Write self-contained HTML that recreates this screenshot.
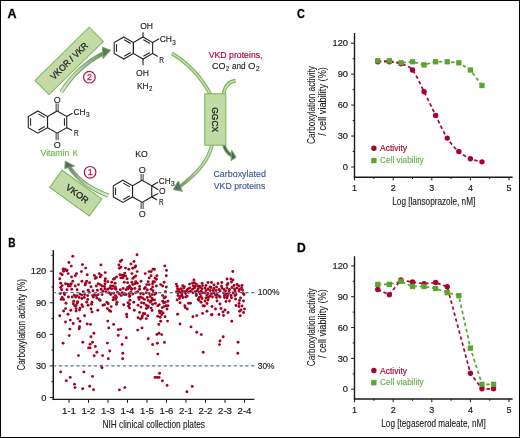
<!DOCTYPE html>
<html><head><meta charset="utf-8"><style>
html,body{margin:0;padding:0;background:#fff;}
svg{display:block;will-change:transform;}
text{font-family:"Liberation Sans",sans-serif;}
</style></head><body>
<svg width="520" height="438" viewBox="0 0 520 438">
<rect x="0" y="0" width="520" height="438" fill="#fff"/>
<polygon points="123.80,36.90 133.41,42.45 133.41,53.55 123.80,59.10 114.19,53.55 114.19,42.45" fill="none" stroke="#222222" stroke-width="1.1" stroke-linejoin="miter"/><line x1="116.49" y1="51.77" x2="116.49" y2="44.23" stroke="#222222" stroke-width="1.05"/><line x1="124.19" y1="39.78" x2="130.72" y2="43.55" stroke="#222222" stroke-width="1.05"/><line x1="130.72" y1="52.45" x2="124.19" y2="56.22" stroke="#222222" stroke-width="1.05"/><polygon points="143.03,36.90 152.64,42.45 152.64,53.55 143.03,59.10 133.41,53.55 133.41,42.45" fill="none" stroke="#222222" stroke-width="1.1" stroke-linejoin="miter"/><line x1="143.41" y1="39.78" x2="149.95" y2="43.55" stroke="#222222" stroke-width="1.05"/><line x1="149.95" y1="52.45" x2="143.41" y2="56.22" stroke="#222222" stroke-width="1.05"/><line x1="143.03" y1="36.90" x2="143.03" y2="32.20" stroke="#222222" stroke-width="1.1"/><line x1="143.03" y1="59.10" x2="143.03" y2="65.20" stroke="#222222" stroke-width="1.1"/><line x1="152.64" y1="42.45" x2="159.20" y2="38.80" stroke="#222222" stroke-width="1.1"/><line x1="152.64" y1="53.55" x2="157.80" y2="56.50" stroke="#222222" stroke-width="1.1"/><text x="140.20" y="28.70" font-size="9.0" fill="#222222" stroke="#222222" stroke-width="0.14" textLength="12.80" lengthAdjust="spacingAndGlyphs" >OH</text><text x="136.10" y="76.20" font-size="9.0" fill="#222222" stroke="#222222" stroke-width="0.14" textLength="12.90" lengthAdjust="spacingAndGlyphs" >OH</text><text x="159.70" y="42.40" font-size="9.0" fill="#222222" stroke="#222222" stroke-width="0.14" textLength="12.20" lengthAdjust="spacingAndGlyphs" >CH</text><text x="172.30" y="44.60" font-size="6.4" fill="#222222" stroke="#222222" stroke-width="0.14" textLength="3.50" lengthAdjust="spacingAndGlyphs" >3</text><text x="159.20" y="62.90" font-size="9.6" fill="#222222" stroke="#222222" stroke-width="0.14" textLength="4.78" lengthAdjust="spacingAndGlyphs" >R</text><text x="137.00" y="89.00" font-size="9.0" fill="#222222" stroke="#222222" stroke-width="0.14" textLength="11.61" lengthAdjust="spacingAndGlyphs" >KH</text><text x="149.00" y="91.20" font-size="6.4" fill="#222222" stroke="#222222" stroke-width="0.14" textLength="3.40" lengthAdjust="spacingAndGlyphs" >2</text><polygon points="37.90,111.00 47.51,116.55 47.51,127.65 37.90,133.20 28.29,127.65 28.29,116.55" fill="none" stroke="#222222" stroke-width="1.1" stroke-linejoin="miter"/><line x1="30.59" y1="125.87" x2="30.59" y2="118.33" stroke="#222222" stroke-width="1.05"/><line x1="38.29" y1="113.88" x2="44.82" y2="117.65" stroke="#222222" stroke-width="1.05"/><line x1="44.82" y1="126.55" x2="38.29" y2="130.32" stroke="#222222" stroke-width="1.05"/><polygon points="57.13,111.00 66.74,116.55 66.74,127.65 57.13,133.20 47.51,127.65 47.51,116.55" fill="none" stroke="#222222" stroke-width="1.1" stroke-linejoin="miter"/><line x1="64.44" y1="118.33" x2="64.44" y2="125.87" stroke="#222222" stroke-width="1.05"/><line x1="58.13" y1="111.00" x2="58.13" y2="103.40" stroke="#222222" stroke-width="0.9"/><line x1="56.13" y1="111.00" x2="56.13" y2="103.40" stroke="#222222" stroke-width="0.9"/><line x1="56.13" y1="133.20" x2="56.13" y2="140.20" stroke="#222222" stroke-width="0.9"/><line x1="58.13" y1="133.20" x2="58.13" y2="140.20" stroke="#222222" stroke-width="0.9"/><text x="53.84" y="102.60" font-size="9.0" fill="#222222" stroke="#222222" stroke-width="0.14" textLength="7.00" lengthAdjust="spacingAndGlyphs" >O</text><text x="53.84" y="147.60" font-size="9.0" fill="#222222" stroke="#222222" stroke-width="0.14" textLength="7.00" lengthAdjust="spacingAndGlyphs" >O</text><line x1="66.74" y1="116.55" x2="72.40" y2="113.20" stroke="#222222" stroke-width="1.1"/><line x1="66.74" y1="127.65" x2="72.20" y2="130.60" stroke="#222222" stroke-width="1.1"/><text x="73.60" y="114.60" font-size="9.0" fill="#222222" stroke="#222222" stroke-width="0.14" textLength="12.00" lengthAdjust="spacingAndGlyphs" >CH</text><text x="86.00" y="116.80" font-size="6.4" fill="#222222" stroke="#222222" stroke-width="0.14" textLength="3.60" lengthAdjust="spacingAndGlyphs" >3</text><text x="73.90" y="136.40" font-size="9.6" fill="#222222" stroke="#222222" stroke-width="0.14" textLength="4.68" lengthAdjust="spacingAndGlyphs" >R</text><text x="40.50" y="156.20" font-size="9.0" fill="#68b048" stroke="#68b048" stroke-width="0.12" textLength="28.88" lengthAdjust="spacingAndGlyphs" >Vitamin</text><text x="72.70" y="156.20" font-size="9.0" fill="#68b048" stroke="#68b048" stroke-width="0.12" textLength="5.09" lengthAdjust="spacingAndGlyphs" >K</text><polygon points="122.90,180.20 132.51,185.75 132.51,196.85 122.90,202.40 113.29,196.85 113.29,185.75" fill="none" stroke="#222222" stroke-width="1.1" stroke-linejoin="miter"/><line x1="115.59" y1="195.07" x2="115.59" y2="187.53" stroke="#222222" stroke-width="1.05"/><line x1="123.29" y1="183.08" x2="129.82" y2="186.85" stroke="#222222" stroke-width="1.05"/><line x1="129.82" y1="195.75" x2="123.29" y2="199.52" stroke="#222222" stroke-width="1.05"/><polygon points="142.13,180.20 151.74,185.75 151.74,196.85 142.13,202.40 132.51,196.85 132.51,185.75" fill="none" stroke="#222222" stroke-width="1.1" stroke-linejoin="miter"/><line x1="143.13" y1="180.20" x2="143.13" y2="174.00" stroke="#222222" stroke-width="0.9"/><line x1="141.13" y1="180.20" x2="141.13" y2="174.00" stroke="#222222" stroke-width="0.9"/><line x1="141.13" y1="202.40" x2="141.13" y2="209.00" stroke="#222222" stroke-width="0.9"/><line x1="143.13" y1="202.40" x2="143.13" y2="209.00" stroke="#222222" stroke-width="0.9"/><text x="138.71" y="172.70" font-size="9.0" fill="#222222" stroke="#222222" stroke-width="0.14" textLength="7.00" lengthAdjust="spacingAndGlyphs" >O</text><text x="138.81" y="217.40" font-size="9.0" fill="#222222" stroke="#222222" stroke-width="0.14" textLength="7.00" lengthAdjust="spacingAndGlyphs" >O</text><line x1="151.74" y1="185.75" x2="158.30" y2="189.70" stroke="#222222" stroke-width="1.1"/><line x1="151.74" y1="196.85" x2="158.30" y2="193.50" stroke="#222222" stroke-width="1.1"/><text x="159.10" y="194.40" font-size="9.0" fill="#222222" stroke="#222222" stroke-width="0.14" textLength="6.62" lengthAdjust="spacingAndGlyphs" >O</text><line x1="151.74" y1="185.75" x2="157.90" y2="182.30" stroke="#222222" stroke-width="1.1"/><line x1="151.74" y1="196.85" x2="157.00" y2="199.90" stroke="#222222" stroke-width="1.1"/><text x="158.70" y="183.50" font-size="9.0" fill="#222222" stroke="#222222" stroke-width="0.14" textLength="11.90" lengthAdjust="spacingAndGlyphs" >CH</text><text x="171.00" y="185.60" font-size="6.4" fill="#222222" stroke="#222222" stroke-width="0.14" textLength="3.70" lengthAdjust="spacingAndGlyphs" >3</text><text x="159.00" y="205.40" font-size="9.6" fill="#222222" stroke="#222222" stroke-width="0.14" textLength="4.58" lengthAdjust="spacingAndGlyphs" >R</text><text x="135.30" y="156.70" font-size="9.0" fill="#222222" stroke="#222222" stroke-width="0.14" textLength="12.61" lengthAdjust="spacingAndGlyphs" >KO</text><text x="208.75" y="57.75" font-size="9.0" fill="#aa0230" stroke="#aa0230" stroke-width="0.14" textLength="53.76" lengthAdjust="spacingAndGlyphs" >VKD proteins,</text><text x="211.90" y="68.50" font-size="9.0" fill="#222222" stroke="#222222" stroke-width="0.14" textLength="13.50" lengthAdjust="spacingAndGlyphs" >CO</text><text x="226.00" y="70.80" font-size="6.4" fill="#222222" stroke="#222222" stroke-width="0.14" textLength="3.20" lengthAdjust="spacingAndGlyphs" >2</text><text x="231.90" y="68.50" font-size="9.0" fill="#222222" stroke="#222222" stroke-width="0.14" textLength="13.70" lengthAdjust="spacingAndGlyphs" >and</text><text x="248.10" y="68.50" font-size="9.0" fill="#222222" stroke="#222222" stroke-width="0.14" textLength="7.43" lengthAdjust="spacingAndGlyphs" >O</text><text x="256.00" y="70.80" font-size="6.4" fill="#222222" stroke="#222222" stroke-width="0.14" textLength="3.60" lengthAdjust="spacingAndGlyphs" >2</text><text x="213.40" y="177.20" font-size="9.0" fill="#3d5792" stroke="#3d5792" stroke-width="0.14" textLength="52.49" lengthAdjust="spacingAndGlyphs" >Carboxylated</text><text x="213.80" y="188.50" font-size="9.0" fill="#3d5792" stroke="#3d5792" stroke-width="0.14" textLength="51.48" lengthAdjust="spacingAndGlyphs" >VKD proteins</text><defs>
<linearGradient id="g2" gradientUnits="userSpaceOnUse" x1="61" y1="92" x2="104" y2="53"><stop offset="0" stop-color="#dcead0"/><stop offset="0.45" stop-color="#c4d2bc"/><stop offset="1" stop-color="#747c7c"/></linearGradient>
<linearGradient id="g1" gradientUnits="userSpaceOnUse" x1="108" y1="195" x2="68" y2="166"><stop offset="0" stop-color="#dcead0"/><stop offset="0.45" stop-color="#c4d0c0"/><stop offset="1" stop-color="#6e7482"/></linearGradient>
<linearGradient id="gh" x1="0" y1="0" x2="1" y2="1"><stop offset="0" stop-color="#4a5062"/><stop offset="1" stop-color="#737a88"/></linearGradient>
<linearGradient id="gh2" x1="0" y1="0" x2="1" y2="1"><stop offset="0" stop-color="#56645c"/><stop offset="1" stop-color="#7c8a82"/></linearGradient>
<linearGradient id="gk" gradientUnits="userSpaceOnUse" x1="211" y1="146" x2="180" y2="186"><stop offset="0" stop-color="#d2e2c0"/><stop offset="0.6" stop-color="#c4cfbc"/><stop offset="1" stop-color="#7d8488"/></linearGradient>
</defs><path d="M171.8,53.4 Q196,68 210.4,94.2" fill="none" stroke="#74b553" stroke-width="3.6"/><path d="M171.8,53.4 Q196,68 210.4,94.2" fill="none" stroke="#c6ddb0" stroke-width="1.6"/><path d="M223.4,94.2 Q225.5,82 235.6,80.6" fill="none" stroke="#74b553" stroke-width="3.6"/><path d="M223.4,94.2 Q225.5,82 235.6,80.6" fill="none" stroke="#c6ddb0" stroke-width="1.6"/><path d="M211.8,145.3 Q207.8,165.5 180.0,186.4" fill="none" stroke="#74b553" stroke-width="3.6"/><path d="M211.8,145.3 Q207.8,165.5 180.0,186.4" fill="none" stroke="url(#gk)" stroke-width="1.6"/><polygon points="173.3,189.6 178.3,181.0 182.3,191.3" fill="url(#gh)" stroke="#6aac4c" stroke-width="1"/><path d="M223.9,145.2 Q225.6,151.6 231.6,155.6" fill="none" stroke="#6aac4c" stroke-width="3.6"/><path d="M223.9,145.2 Q225.6,151.6 231.6,155.6" fill="none" stroke="#5a6068" stroke-width="1.8"/><polygon points="236.1,157.3 231.6,150.0 231.1,160.6" fill="#565d6a" stroke="#6aac4c" stroke-width="1"/><rect x="204.8" y="93.8" width="21" height="51.4" fill="#c2dba6" stroke="#74b553" stroke-width="1"/><g transform="translate(212.3,0) rotate(90)"><text x="107.30" y="0.00" font-size="9.0" fill="#222222" stroke="#222222" stroke-width="0.3" textLength="24.81" lengthAdjust="spacingAndGlyphs" >GGCX</text></g><g transform="translate(69.1,60.9) rotate(-44.5)"><rect x="-38" y="-10" width="76" height="20" fill="#c2dba6" stroke="#74b553" stroke-width="1"/><text x="-24.20" y="3.20" font-size="9.0" fill="#222222" stroke="#222222" stroke-width="0.28" textLength="48.39" lengthAdjust="spacingAndGlyphs" >VKOR / VKR</text></g><g transform="translate(75.7,193.1) rotate(35.8)"><rect x="-24.5" y="-10.5" width="49" height="21" fill="#c2dba6" stroke="#74b553" stroke-width="1"/><text x="-11.10" y="2.70" font-size="8.9" fill="#222222" stroke="#222222" stroke-width="0.28" textLength="25.62" lengthAdjust="spacingAndGlyphs" >VKOR</text></g><path d="M61.3,92.0 Q77.5,66.5 102.8,53.6" fill="none" stroke="#6aac4c" stroke-width="4.0"/><path d="M61.3,92.0 Q77.5,66.5 102.8,53.6" fill="none" stroke="url(#g2)" stroke-width="2.3"/><polygon points="110.6,50.3 102.5,47.3 103.0,58.6" fill="url(#gh2)" stroke="#6aac4c" stroke-width="1"/><path d="M108.4,195.6 Q82,186 69.6,167.4" fill="none" stroke="#6aac4c" stroke-width="4.0"/><path d="M108.4,195.6 Q82,186 69.6,167.4" fill="none" stroke="url(#g1)" stroke-width="2.3"/><polygon points="65.3,161.3 64.8,168.6 74.6,166.1" fill="url(#gh)" stroke="#6aac4c" stroke-width="1"/><circle cx="89.4" cy="77.2" r="5.8" fill="none" stroke="#b2123f" stroke-width="1.2"/><text x="86.95" y="80.30" font-size="8.8" fill="#b2123f" stroke="#b2123f" stroke-width="0.25" textLength="4.89" lengthAdjust="spacingAndGlyphs" >2</text><circle cx="90.1" cy="172.3" r="5.8" fill="none" stroke="#b2123f" stroke-width="1.2"/><text x="87.65" y="175.40" font-size="8.8" fill="#b2123f" stroke="#b2123f" stroke-width="0.25" textLength="4.89" lengthAdjust="spacingAndGlyphs" >1</text><line x1="354.5" y1="33.0" x2="354.5" y2="177.89999999999998" stroke="#1a1a1a" stroke-width="1.4"/><line x1="353.8" y1="177.2" x2="512.6" y2="177.2" stroke="#1a1a1a" stroke-width="1.4"/><line x1="351.1" y1="167.00" x2="354.5" y2="167.00" stroke="#1a1a1a" stroke-width="1"/><text x="342.83" y="170.20" font-size="9.3" fill="#1a1a1a" stroke="#1a1a1a" stroke-width="0.18" textLength="5.17" lengthAdjust="spacingAndGlyphs" >0</text><line x1="352.7" y1="151.53" x2="354.5" y2="151.53" stroke="#1a1a1a" stroke-width="1"/><line x1="351.1" y1="136.05" x2="354.5" y2="136.05" stroke="#1a1a1a" stroke-width="1"/><text x="337.65" y="139.25" font-size="9.3" fill="#1a1a1a" stroke="#1a1a1a" stroke-width="0.18" textLength="10.34" lengthAdjust="spacingAndGlyphs" >30</text><line x1="352.7" y1="120.58" x2="354.5" y2="120.58" stroke="#1a1a1a" stroke-width="1"/><line x1="351.1" y1="105.10" x2="354.5" y2="105.10" stroke="#1a1a1a" stroke-width="1"/><text x="337.65" y="108.30" font-size="9.3" fill="#1a1a1a" stroke="#1a1a1a" stroke-width="0.18" textLength="10.34" lengthAdjust="spacingAndGlyphs" >60</text><line x1="352.7" y1="89.62" x2="354.5" y2="89.62" stroke="#1a1a1a" stroke-width="1"/><line x1="351.1" y1="74.15" x2="354.5" y2="74.15" stroke="#1a1a1a" stroke-width="1"/><text x="337.65" y="77.35" font-size="9.3" fill="#1a1a1a" stroke="#1a1a1a" stroke-width="0.18" textLength="10.34" lengthAdjust="spacingAndGlyphs" >90</text><line x1="352.7" y1="58.67" x2="354.5" y2="58.67" stroke="#1a1a1a" stroke-width="1"/><line x1="351.1" y1="43.20" x2="354.5" y2="43.20" stroke="#1a1a1a" stroke-width="1"/><text x="332.48" y="46.40" font-size="9.3" fill="#1a1a1a" stroke="#1a1a1a" stroke-width="0.18" textLength="15.52" lengthAdjust="spacingAndGlyphs" >120</text><line x1="354.60" y1="177.2" x2="354.60" y2="180.39999999999998" stroke="#1a1a1a" stroke-width="1"/><text x="352.10" y="190.80" font-size="9.0" fill="#1a1a1a" stroke="#1a1a1a" stroke-width="0.18" textLength="5.01" lengthAdjust="spacingAndGlyphs" >1</text><line x1="373.90" y1="177.2" x2="373.90" y2="179.0" stroke="#1a1a1a" stroke-width="1"/><line x1="393.20" y1="177.2" x2="393.20" y2="180.39999999999998" stroke="#1a1a1a" stroke-width="1"/><text x="390.70" y="190.80" font-size="9.0" fill="#1a1a1a" stroke="#1a1a1a" stroke-width="0.18" textLength="5.01" lengthAdjust="spacingAndGlyphs" >2</text><line x1="412.50" y1="177.2" x2="412.50" y2="179.0" stroke="#1a1a1a" stroke-width="1"/><line x1="431.80" y1="177.2" x2="431.80" y2="180.39999999999998" stroke="#1a1a1a" stroke-width="1"/><text x="429.30" y="190.80" font-size="9.0" fill="#1a1a1a" stroke="#1a1a1a" stroke-width="0.18" textLength="5.01" lengthAdjust="spacingAndGlyphs" >3</text><line x1="451.10" y1="177.2" x2="451.10" y2="179.0" stroke="#1a1a1a" stroke-width="1"/><line x1="470.40" y1="177.2" x2="470.40" y2="180.39999999999998" stroke="#1a1a1a" stroke-width="1"/><text x="467.90" y="190.80" font-size="9.0" fill="#1a1a1a" stroke="#1a1a1a" stroke-width="0.18" textLength="5.01" lengthAdjust="spacingAndGlyphs" >4</text><line x1="489.70" y1="177.2" x2="489.70" y2="179.0" stroke="#1a1a1a" stroke-width="1"/><line x1="509.00" y1="177.2" x2="509.00" y2="180.39999999999998" stroke="#1a1a1a" stroke-width="1"/><text x="506.50" y="190.80" font-size="9.0" fill="#1a1a1a" stroke="#1a1a1a" stroke-width="0.18" textLength="5.01" lengthAdjust="spacingAndGlyphs" >5</text><text x="392.30" y="205.10" font-size="10.0" fill="#1a1a1a" stroke="#1a1a1a" stroke-width="0.12" textLength="82.99" lengthAdjust="spacingAndGlyphs" >Log [lansoprazole, nM]</text><g transform="translate(315.1,0) rotate(-90)"><text x="-144.00" y="0.00" font-size="10.2" fill="#1a1a1a" stroke="#1a1a1a" stroke-width="0.07" textLength="77.79" lengthAdjust="spacingAndGlyphs" >Carboxylation activity</text></g><g transform="translate(326.4,0) rotate(-90)"><text x="-135.70" y="0.00" font-size="10.2" fill="#1a1a1a" stroke="#1a1a1a" stroke-width="0.07" textLength="68.62" lengthAdjust="spacingAndGlyphs" >/ cell viability (%)</text></g><circle cx="373.9" cy="148.30" r="2.7" fill="#aa0230"/><text x="380.10" y="151.30" font-size="8.6" fill="#aa0230" stroke="#aa0230" stroke-width="0.15" textLength="26.89" lengthAdjust="spacingAndGlyphs" >Activity</text><rect x="371.2" y="157.90" width="5.3" height="5.3" fill="#5ba42e"/><text x="380.10" y="163.10" font-size="8.6" fill="#6aac4c" stroke="#6aac4c" stroke-width="0.15" textLength="43.58" lengthAdjust="spacingAndGlyphs" >Cell viability</text><polyline points="377.76,60.74 389.34,60.74 400.92,62.80 412.50,61.77 424.08,64.87 435.66,61.77 447.24,61.77 458.82,62.80 470.40,70.02 481.98,85.50" fill="none" stroke="#5ba42e" stroke-width="1.7" stroke-dasharray="3.5,2.7"/><polyline points="377.76,61.77 378.45,61.76 379.33,61.74 380.38,61.71 381.56,61.67 382.83,61.64 384.15,61.62 385.50,61.62 386.84,61.64 388.13,61.69 389.34,61.77 390.50,61.87 391.66,61.98 392.81,62.11 393.97,62.25 395.13,62.41 396.29,62.61 397.45,62.85 398.60,63.12 399.76,63.45 400.92,63.83 402.08,64.22 403.24,64.56 404.39,64.90 405.55,65.27 406.71,65.70 407.87,66.24 409.03,66.90 410.18,67.73 411.34,68.76 412.50,70.02 413.66,71.55 414.82,73.33 415.97,75.32 417.13,77.48 418.29,79.76 419.45,82.13 420.61,84.55 421.76,86.98 422.92,89.37 424.08,91.69 425.24,93.98 426.40,96.32 427.55,98.69 428.71,101.08 429.87,103.49 431.03,105.90 432.19,108.31 433.34,110.70 434.50,113.08 435.66,115.42 436.82,117.77 437.98,120.17 439.13,122.59 440.29,125.02 441.45,127.41 442.61,129.75 443.77,132.02 444.92,134.18 446.08,136.22 447.24,138.11 448.40,139.86 449.56,141.49 450.71,143.01 451.87,144.44 453.03,145.79 454.19,147.05 455.35,148.25 456.50,149.39 457.66,150.48 458.82,151.53 459.98,152.52 461.14,153.43 462.29,154.28 463.45,155.06 464.61,155.78 465.77,156.45 466.93,157.08 468.08,157.67 469.24,158.22 470.40,158.75 471.61,159.24 472.90,159.68 474.24,160.08 475.59,160.43 476.91,160.75 478.18,161.02 479.36,161.27 480.41,161.49 481.29,161.68 481.98,161.84" fill="none" stroke="#aa0230" stroke-width="1.7" stroke-dasharray="3.5,2.7"/><circle cx="377.76" cy="61.77" r="2.7" fill="#aa0230"/><circle cx="389.34" cy="61.77" r="2.7" fill="#aa0230"/><circle cx="400.92" cy="63.83" r="2.7" fill="#aa0230"/><circle cx="412.50" cy="70.02" r="2.7" fill="#aa0230"/><circle cx="424.08" cy="91.69" r="2.7" fill="#aa0230"/><circle cx="435.66" cy="115.42" r="2.7" fill="#aa0230"/><circle cx="447.24" cy="138.11" r="2.7" fill="#aa0230"/><circle cx="458.82" cy="151.53" r="2.7" fill="#aa0230"/><circle cx="470.40" cy="158.75" r="2.7" fill="#aa0230"/><circle cx="481.98" cy="161.84" r="2.7" fill="#aa0230"/><rect x="375.11" y="58.09" width="5.3" height="5.3" fill="#5ba42e"/><rect x="386.69" y="58.09" width="5.3" height="5.3" fill="#5ba42e"/><rect x="398.27" y="60.15" width="5.3" height="5.3" fill="#5ba42e"/><rect x="409.85" y="59.12" width="5.3" height="5.3" fill="#5ba42e"/><rect x="421.43" y="62.22" width="5.3" height="5.3" fill="#5ba42e"/><rect x="433.01" y="59.12" width="5.3" height="5.3" fill="#5ba42e"/><rect x="444.59" y="59.12" width="5.3" height="5.3" fill="#5ba42e"/><rect x="456.17" y="60.15" width="5.3" height="5.3" fill="#5ba42e"/><rect x="467.75" y="67.37" width="5.3" height="5.3" fill="#5ba42e"/><rect x="479.33" y="82.85" width="5.3" height="5.3" fill="#5ba42e"/><line x1="354.5" y1="256.2" x2="354.5" y2="399.7" stroke="#1a1a1a" stroke-width="1.4"/><line x1="353.8" y1="399.0" x2="512.6" y2="399.0" stroke="#1a1a1a" stroke-width="1.4"/><line x1="351.1" y1="389.20" x2="354.5" y2="389.20" stroke="#1a1a1a" stroke-width="1"/><text x="342.83" y="392.40" font-size="9.3" fill="#1a1a1a" stroke="#1a1a1a" stroke-width="0.18" textLength="5.17" lengthAdjust="spacingAndGlyphs" >0</text><line x1="352.7" y1="373.79" x2="354.5" y2="373.79" stroke="#1a1a1a" stroke-width="1"/><line x1="351.1" y1="358.38" x2="354.5" y2="358.38" stroke="#1a1a1a" stroke-width="1"/><text x="337.65" y="361.57" font-size="9.3" fill="#1a1a1a" stroke="#1a1a1a" stroke-width="0.18" textLength="10.34" lengthAdjust="spacingAndGlyphs" >30</text><line x1="352.7" y1="342.96" x2="354.5" y2="342.96" stroke="#1a1a1a" stroke-width="1"/><line x1="351.1" y1="327.55" x2="354.5" y2="327.55" stroke="#1a1a1a" stroke-width="1"/><text x="337.65" y="330.75" font-size="9.3" fill="#1a1a1a" stroke="#1a1a1a" stroke-width="0.18" textLength="10.34" lengthAdjust="spacingAndGlyphs" >60</text><line x1="352.7" y1="312.14" x2="354.5" y2="312.14" stroke="#1a1a1a" stroke-width="1"/><line x1="351.1" y1="296.72" x2="354.5" y2="296.72" stroke="#1a1a1a" stroke-width="1"/><text x="337.65" y="299.92" font-size="9.3" fill="#1a1a1a" stroke="#1a1a1a" stroke-width="0.18" textLength="10.34" lengthAdjust="spacingAndGlyphs" >90</text><line x1="352.7" y1="281.31" x2="354.5" y2="281.31" stroke="#1a1a1a" stroke-width="1"/><line x1="351.1" y1="265.90" x2="354.5" y2="265.90" stroke="#1a1a1a" stroke-width="1"/><text x="332.48" y="269.10" font-size="9.3" fill="#1a1a1a" stroke="#1a1a1a" stroke-width="0.18" textLength="15.52" lengthAdjust="spacingAndGlyphs" >120</text><line x1="354.60" y1="399.0" x2="354.60" y2="402.2" stroke="#1a1a1a" stroke-width="1"/><text x="352.10" y="412.60" font-size="9.0" fill="#1a1a1a" stroke="#1a1a1a" stroke-width="0.18" textLength="5.01" lengthAdjust="spacingAndGlyphs" >1</text><line x1="373.90" y1="399.0" x2="373.90" y2="400.8" stroke="#1a1a1a" stroke-width="1"/><line x1="393.20" y1="399.0" x2="393.20" y2="402.2" stroke="#1a1a1a" stroke-width="1"/><text x="390.70" y="412.60" font-size="9.0" fill="#1a1a1a" stroke="#1a1a1a" stroke-width="0.18" textLength="5.01" lengthAdjust="spacingAndGlyphs" >2</text><line x1="412.50" y1="399.0" x2="412.50" y2="400.8" stroke="#1a1a1a" stroke-width="1"/><line x1="431.80" y1="399.0" x2="431.80" y2="402.2" stroke="#1a1a1a" stroke-width="1"/><text x="429.30" y="412.60" font-size="9.0" fill="#1a1a1a" stroke="#1a1a1a" stroke-width="0.18" textLength="5.01" lengthAdjust="spacingAndGlyphs" >3</text><line x1="451.10" y1="399.0" x2="451.10" y2="400.8" stroke="#1a1a1a" stroke-width="1"/><line x1="470.40" y1="399.0" x2="470.40" y2="402.2" stroke="#1a1a1a" stroke-width="1"/><text x="467.90" y="412.60" font-size="9.0" fill="#1a1a1a" stroke="#1a1a1a" stroke-width="0.18" textLength="5.01" lengthAdjust="spacingAndGlyphs" >4</text><line x1="489.70" y1="399.0" x2="489.70" y2="400.8" stroke="#1a1a1a" stroke-width="1"/><line x1="509.00" y1="399.0" x2="509.00" y2="402.2" stroke="#1a1a1a" stroke-width="1"/><text x="506.50" y="412.60" font-size="9.0" fill="#1a1a1a" stroke="#1a1a1a" stroke-width="0.18" textLength="5.01" lengthAdjust="spacingAndGlyphs" >5</text><text x="381.30" y="426.90" font-size="10.0" fill="#1a1a1a" stroke="#1a1a1a" stroke-width="0.12" textLength="104.39" lengthAdjust="spacingAndGlyphs" >Log [tegaserod maleate, nM]</text><g transform="translate(315.1,0) rotate(-90)"><text x="-366.20" y="0.00" font-size="10.2" fill="#1a1a1a" stroke="#1a1a1a" stroke-width="0.07" textLength="77.79" lengthAdjust="spacingAndGlyphs" >Carboxylation activity</text></g><g transform="translate(326.4,0) rotate(-90)"><text x="-357.90" y="0.00" font-size="10.2" fill="#1a1a1a" stroke="#1a1a1a" stroke-width="0.07" textLength="68.62" lengthAdjust="spacingAndGlyphs" >/ cell viability (%)</text></g><circle cx="373.9" cy="370.50" r="2.7" fill="#aa0230"/><text x="380.10" y="373.50" font-size="8.6" fill="#aa0230" stroke="#aa0230" stroke-width="0.15" textLength="26.89" lengthAdjust="spacingAndGlyphs" >Activity</text><rect x="371.2" y="380.10" width="5.3" height="5.3" fill="#5ba42e"/><text x="380.10" y="385.30" font-size="8.6" fill="#6aac4c" stroke="#6aac4c" stroke-width="0.15" textLength="43.58" lengthAdjust="spacingAndGlyphs" >Cell viability</text><polyline points="377.76,284.39 389.34,284.39 400.92,281.31 412.50,286.45 424.08,286.45 435.66,288.50 447.24,292.62 458.82,295.70 470.40,348.10 481.98,384.37 493.56,384.37" fill="none" stroke="#5ba42e" stroke-width="1.7" stroke-dasharray="3.5,2.7"/><polyline points="377.76,289.53 389.34,294.67 400.92,279.98 412.50,282.03 424.08,283.78 435.66,282.55 447.24,286.76 470.40,373.27 481.98,388.79 493.56,388.79" fill="none" stroke="#aa0230" stroke-width="1.7" stroke-dasharray="3.5,2.7"/><circle cx="377.76" cy="289.53" r="2.7" fill="#aa0230"/><circle cx="389.34" cy="294.67" r="2.7" fill="#aa0230"/><circle cx="400.92" cy="279.98" r="2.7" fill="#aa0230"/><circle cx="412.50" cy="282.03" r="2.7" fill="#aa0230"/><circle cx="424.08" cy="283.78" r="2.7" fill="#aa0230"/><circle cx="435.66" cy="282.55" r="2.7" fill="#aa0230"/><circle cx="447.24" cy="286.76" r="2.7" fill="#aa0230"/><circle cx="470.40" cy="373.27" r="2.7" fill="#aa0230"/><circle cx="481.98" cy="388.79" r="2.7" fill="#aa0230"/><circle cx="493.56" cy="388.79" r="2.7" fill="#aa0230"/><rect x="375.11" y="281.75" width="5.3" height="5.3" fill="#5ba42e"/><rect x="386.69" y="281.75" width="5.3" height="5.3" fill="#5ba42e"/><rect x="398.27" y="278.66" width="5.3" height="5.3" fill="#5ba42e"/><rect x="409.85" y="283.80" width="5.3" height="5.3" fill="#5ba42e"/><rect x="421.43" y="283.80" width="5.3" height="5.3" fill="#5ba42e"/><rect x="433.01" y="285.86" width="5.3" height="5.3" fill="#5ba42e"/><rect x="444.59" y="289.97" width="5.3" height="5.3" fill="#5ba42e"/><rect x="456.17" y="293.05" width="5.3" height="5.3" fill="#5ba42e"/><rect x="467.75" y="345.45" width="5.3" height="5.3" fill="#5ba42e"/><rect x="479.33" y="381.72" width="5.3" height="5.3" fill="#5ba42e"/><rect x="490.91" y="381.72" width="5.3" height="5.3" fill="#5ba42e"/><text x="7.60" y="17.80" font-size="12.6" font-weight="bold" fill="#000" stroke="#000" stroke-width="0.3" textLength="9.06" lengthAdjust="spacingAndGlyphs" >A</text><text x="8.30" y="246.90" font-size="12.6" font-weight="bold" fill="#000" stroke="#000" stroke-width="0.3" textLength="7.37" lengthAdjust="spacingAndGlyphs" >B</text><text x="297.00" y="18.10" font-size="12.6" font-weight="bold" fill="#000" stroke="#000" stroke-width="0.3" textLength="7.87" lengthAdjust="spacingAndGlyphs" >C</text><text x="297.00" y="252.10" font-size="12.6" font-weight="bold" fill="#000" stroke="#000" stroke-width="0.3" textLength="8.77" lengthAdjust="spacingAndGlyphs" >D</text><line x1="53.3" y1="250.2" x2="53.3" y2="400.1" stroke="#1a1a1a" stroke-width="1.5"/><line x1="52.6" y1="399.4" x2="254.4" y2="399.4" stroke="#1a1a1a" stroke-width="1.4"/><line x1="49.9" y1="397.50" x2="53.3" y2="397.50" stroke="#1a1a1a" stroke-width="1"/><text x="41.13" y="400.70" font-size="9.3" fill="#1a1a1a" stroke="#1a1a1a" stroke-width="0.18" textLength="5.17" lengthAdjust="spacingAndGlyphs" >0</text><line x1="51.5" y1="381.71" x2="53.3" y2="381.71" stroke="#1a1a1a" stroke-width="1"/><line x1="49.9" y1="365.93" x2="53.3" y2="365.93" stroke="#1a1a1a" stroke-width="1"/><text x="35.95" y="369.12" font-size="9.3" fill="#1a1a1a" stroke="#1a1a1a" stroke-width="0.18" textLength="10.34" lengthAdjust="spacingAndGlyphs" >30</text><line x1="51.5" y1="350.14" x2="53.3" y2="350.14" stroke="#1a1a1a" stroke-width="1"/><line x1="49.9" y1="334.35" x2="53.3" y2="334.35" stroke="#1a1a1a" stroke-width="1"/><text x="35.95" y="337.55" font-size="9.3" fill="#1a1a1a" stroke="#1a1a1a" stroke-width="0.18" textLength="10.34" lengthAdjust="spacingAndGlyphs" >60</text><line x1="51.5" y1="318.56" x2="53.3" y2="318.56" stroke="#1a1a1a" stroke-width="1"/><line x1="49.9" y1="302.77" x2="53.3" y2="302.77" stroke="#1a1a1a" stroke-width="1"/><text x="35.95" y="305.97" font-size="9.3" fill="#1a1a1a" stroke="#1a1a1a" stroke-width="0.18" textLength="10.34" lengthAdjust="spacingAndGlyphs" >90</text><line x1="51.5" y1="286.99" x2="53.3" y2="286.99" stroke="#1a1a1a" stroke-width="1"/><line x1="49.9" y1="271.20" x2="53.3" y2="271.20" stroke="#1a1a1a" stroke-width="1"/><text x="30.78" y="274.40" font-size="9.3" fill="#1a1a1a" stroke="#1a1a1a" stroke-width="0.18" textLength="15.52" lengthAdjust="spacingAndGlyphs" >120</text><line x1="51.5" y1="255.41" x2="53.3" y2="255.41" stroke="#1a1a1a" stroke-width="1"/><line x1="69.00" y1="399.4" x2="69.00" y2="402.8" stroke="#1a1a1a" stroke-width="1"/><text x="62.03" y="413.60" font-size="9.2" fill="#1a1a1a" stroke="#1a1a1a" stroke-width="0.18" textLength="13.96" lengthAdjust="spacingAndGlyphs" >1-1</text><line x1="88.50" y1="399.4" x2="88.50" y2="402.8" stroke="#1a1a1a" stroke-width="1"/><text x="81.53" y="413.60" font-size="9.2" fill="#1a1a1a" stroke="#1a1a1a" stroke-width="0.18" textLength="13.96" lengthAdjust="spacingAndGlyphs" >1-2</text><line x1="108.00" y1="399.4" x2="108.00" y2="402.8" stroke="#1a1a1a" stroke-width="1"/><text x="101.03" y="413.60" font-size="9.2" fill="#1a1a1a" stroke="#1a1a1a" stroke-width="0.18" textLength="13.96" lengthAdjust="spacingAndGlyphs" >1-3</text><line x1="127.50" y1="399.4" x2="127.50" y2="402.8" stroke="#1a1a1a" stroke-width="1"/><text x="120.53" y="413.60" font-size="9.2" fill="#1a1a1a" stroke="#1a1a1a" stroke-width="0.18" textLength="13.96" lengthAdjust="spacingAndGlyphs" >1-4</text><line x1="147.00" y1="399.4" x2="147.00" y2="402.8" stroke="#1a1a1a" stroke-width="1"/><text x="140.03" y="413.60" font-size="9.2" fill="#1a1a1a" stroke="#1a1a1a" stroke-width="0.18" textLength="13.96" lengthAdjust="spacingAndGlyphs" >1-5</text><line x1="166.50" y1="399.4" x2="166.50" y2="402.8" stroke="#1a1a1a" stroke-width="1"/><text x="159.53" y="413.60" font-size="9.2" fill="#1a1a1a" stroke="#1a1a1a" stroke-width="0.18" textLength="13.96" lengthAdjust="spacingAndGlyphs" >1-6</text><line x1="186.00" y1="399.4" x2="186.00" y2="402.8" stroke="#1a1a1a" stroke-width="1"/><text x="179.03" y="413.60" font-size="9.2" fill="#1a1a1a" stroke="#1a1a1a" stroke-width="0.18" textLength="13.96" lengthAdjust="spacingAndGlyphs" >2-1</text><line x1="205.50" y1="399.4" x2="205.50" y2="402.8" stroke="#1a1a1a" stroke-width="1"/><text x="198.53" y="413.60" font-size="9.2" fill="#1a1a1a" stroke="#1a1a1a" stroke-width="0.18" textLength="13.96" lengthAdjust="spacingAndGlyphs" >2-2</text><line x1="225.00" y1="399.4" x2="225.00" y2="402.8" stroke="#1a1a1a" stroke-width="1"/><text x="218.03" y="413.60" font-size="9.2" fill="#1a1a1a" stroke="#1a1a1a" stroke-width="0.18" textLength="13.96" lengthAdjust="spacingAndGlyphs" >2-3</text><line x1="244.50" y1="399.4" x2="244.50" y2="402.8" stroke="#1a1a1a" stroke-width="1"/><text x="237.53" y="413.60" font-size="9.2" fill="#1a1a1a" stroke="#1a1a1a" stroke-width="0.18" textLength="13.96" lengthAdjust="spacingAndGlyphs" >2-4</text><text x="102.50" y="428.10" font-size="10.4" fill="#1a1a1a" stroke="#1a1a1a" stroke-width="0.12" textLength="102.50" lengthAdjust="spacingAndGlyphs" >NIH clinical collection plates</text><g transform="translate(25.2,0) rotate(-90)"><text x="-370.60" y="0.00" font-size="10.0" fill="#1a1a1a" stroke="#1a1a1a" stroke-width="0.1" textLength="91.60" lengthAdjust="spacingAndGlyphs" >Carboxylation activity (%)</text></g><text x="257.80" y="295.45" font-size="9.0" fill="#1a1a1a" stroke="#1a1a1a" stroke-width="0.15" textLength="21.91" lengthAdjust="spacingAndGlyphs" >100%</text><text x="257.80" y="369.12" font-size="9.0" fill="#1a1a1a" stroke="#1a1a1a" stroke-width="0.15" textLength="16.71" lengthAdjust="spacingAndGlyphs" >30%</text><g fill="#a3011f"><circle cx="72.8" cy="256.2" r="1.45"/><circle cx="68.9" cy="262.5" r="1.45"/><circle cx="71.3" cy="266.1" r="1.45"/><circle cx="82.4" cy="264.6" r="1.45"/><circle cx="85.7" cy="268.1" r="1.45"/><circle cx="100.9" cy="264.9" r="1.45"/><circle cx="63.1" cy="269.0" r="1.45"/><circle cx="65.1" cy="269.2" r="1.45"/><circle cx="67.0" cy="270.2" r="1.45"/><circle cx="63.6" cy="271.2" r="1.45"/><circle cx="66.5" cy="270.7" r="1.45"/><circle cx="60.7" cy="273.6" r="1.45"/><circle cx="62.2" cy="274.8" r="1.45"/><circle cx="68.2" cy="273.6" r="1.45"/><circle cx="81.4" cy="271.6" r="1.45"/><circle cx="76.6" cy="273.6" r="1.45"/><circle cx="75.3" cy="275.8" r="1.45"/><circle cx="87.2" cy="274.8" r="1.45"/><circle cx="71.5" cy="276.9" r="1.45"/><circle cx="59.8" cy="278.8" r="1.45"/><circle cx="94.4" cy="275.5" r="1.45"/><circle cx="96.3" cy="277.4" r="1.45"/><circle cx="95.3" cy="278.4" r="1.45"/><circle cx="99.2" cy="273.6" r="1.45"/><circle cx="101.1" cy="275.2" r="1.45"/><circle cx="100.2" cy="276.9" r="1.45"/><circle cx="72.8" cy="281.2" r="1.45"/><circle cx="81.9" cy="281.2" r="1.45"/><circle cx="86.7" cy="281.2" r="1.45"/><circle cx="85.7" cy="283.2" r="1.45"/><circle cx="85.2" cy="285.1" r="1.45"/><circle cx="89.6" cy="282.7" r="1.45"/><circle cx="60.7" cy="283.2" r="1.45"/><circle cx="62.2" cy="285.6" r="1.45"/><circle cx="60.7" cy="287.5" r="1.45"/><circle cx="65.5" cy="283.7" r="1.45"/><circle cx="67.5" cy="284.1" r="1.45"/><circle cx="69.4" cy="284.6" r="1.45"/><circle cx="71.3" cy="283.7" r="1.45"/><circle cx="68.4" cy="286.0" r="1.45"/><circle cx="70.3" cy="286.0" r="1.45"/><circle cx="75.2" cy="286.0" r="1.45"/><circle cx="78.5" cy="284.6" r="1.45"/><circle cx="91.0" cy="286.8" r="1.45"/><circle cx="96.3" cy="286.0" r="1.45"/><circle cx="98.2" cy="283.7" r="1.45"/><circle cx="100.2" cy="284.6" r="1.45"/><circle cx="102.1" cy="286.0" r="1.45"/><circle cx="61.7" cy="289.8" r="1.45"/><circle cx="67.0" cy="289.8" r="1.45"/><circle cx="71.8" cy="289.3" r="1.45"/><circle cx="77.1" cy="289.8" r="1.45"/><circle cx="83.3" cy="291.7" r="1.45"/><circle cx="88.1" cy="290.3" r="1.45"/><circle cx="89.1" cy="292.2" r="1.45"/><circle cx="93.0" cy="290.8" r="1.45"/><circle cx="97.3" cy="290.3" r="1.45"/><circle cx="101.1" cy="289.3" r="1.45"/><circle cx="103.0" cy="291.2" r="1.45"/><circle cx="60.2" cy="293.6" r="1.45"/><circle cx="64.1" cy="293.2" r="1.45"/><circle cx="64.6" cy="294.6" r="1.45"/><circle cx="74.2" cy="295.1" r="1.45"/><circle cx="77.1" cy="295.6" r="1.45"/><circle cx="80.0" cy="294.1" r="1.45"/><circle cx="81.9" cy="295.1" r="1.45"/><circle cx="84.8" cy="294.6" r="1.45"/><circle cx="87.7" cy="295.6" r="1.45"/><circle cx="92.5" cy="295.6" r="1.45"/><circle cx="94.4" cy="294.6" r="1.45"/><circle cx="96.3" cy="295.6" r="1.45"/><circle cx="98.2" cy="294.6" r="1.45"/><circle cx="102.1" cy="294.6" r="1.45"/><circle cx="62.2" cy="297.5" r="1.45"/><circle cx="61.2" cy="299.4" r="1.45"/><circle cx="63.6" cy="299.4" r="1.45"/><circle cx="68.4" cy="297.0" r="1.45"/><circle cx="72.3" cy="297.0" r="1.45"/><circle cx="75.6" cy="297.0" r="1.45"/><circle cx="79.0" cy="297.5" r="1.45"/><circle cx="81.9" cy="298.5" r="1.45"/><circle cx="84.3" cy="297.5" r="1.45"/><circle cx="87.7" cy="299.4" r="1.45"/><circle cx="93.4" cy="297.0" r="1.45"/><circle cx="96.8" cy="298.0" r="1.45"/><circle cx="99.2" cy="299.4" r="1.45"/><circle cx="100.2" cy="300.4" r="1.45"/><circle cx="66.0" cy="303.3" r="1.45"/><circle cx="73.7" cy="301.3" r="1.45"/><circle cx="77.6" cy="301.8" r="1.45"/><circle cx="73.2" cy="303.8" r="1.45"/><circle cx="77.1" cy="303.3" r="1.45"/><circle cx="74.7" cy="305.7" r="1.45"/><circle cx="76.1" cy="305.7" r="1.45"/><circle cx="81.9" cy="304.7" r="1.45"/><circle cx="86.7" cy="302.3" r="1.45"/><circle cx="88.1" cy="305.2" r="1.45"/><circle cx="92.0" cy="302.3" r="1.45"/><circle cx="91.5" cy="304.2" r="1.45"/><circle cx="103.0" cy="305.2" r="1.45"/><circle cx="65.5" cy="308.6" r="1.45"/><circle cx="63.6" cy="311.0" r="1.45"/><circle cx="70.8" cy="310.2" r="1.45"/><circle cx="76.1" cy="308.6" r="1.45"/><circle cx="76.1" cy="311.0" r="1.45"/><circle cx="80.0" cy="308.1" r="1.45"/><circle cx="79.5" cy="310.0" r="1.45"/><circle cx="82.8" cy="306.6" r="1.45"/><circle cx="91.0" cy="309.0" r="1.45"/><circle cx="92.0" cy="311.9" r="1.45"/><circle cx="97.8" cy="310.2" r="1.45"/><circle cx="59.8" cy="315.8" r="1.45"/><circle cx="68.0" cy="314.3" r="1.45"/><circle cx="84.6" cy="315.8" r="1.45"/><circle cx="70.3" cy="320.1" r="1.45"/><circle cx="78.0" cy="318.6" r="1.45"/><circle cx="80.0" cy="321.3" r="1.45"/><circle cx="65.5" cy="322.0" r="1.45"/><circle cx="73.2" cy="323.5" r="1.45"/><circle cx="87.2" cy="324.0" r="1.45"/><circle cx="90.5" cy="324.4" r="1.45"/><circle cx="79.5" cy="326.7" r="1.45"/><circle cx="79.2" cy="328.8" r="1.45"/><circle cx="69.9" cy="329.1" r="1.45"/><circle cx="93.9" cy="333.3" r="1.45"/><circle cx="69.2" cy="335.6" r="1.45"/><circle cx="91.0" cy="336.8" r="1.45"/><circle cx="63.1" cy="343.3" r="1.45"/><circle cx="82.8" cy="342.3" r="1.45"/><circle cx="92.5" cy="342.3" r="1.45"/><circle cx="90.1" cy="344.2" r="1.45"/><circle cx="95.3" cy="346.4" r="1.45"/><circle cx="88.6" cy="347.9" r="1.45"/><circle cx="90.1" cy="347.9" r="1.45"/><circle cx="96.8" cy="352.2" r="1.45"/><circle cx="78.5" cy="355.6" r="1.45"/><circle cx="94.2" cy="355.8" r="1.45"/><circle cx="102.6" cy="355.6" r="1.45"/><circle cx="101.2" cy="366.1" r="1.45"/><circle cx="102.0" cy="367.8" r="1.45"/><circle cx="60.7" cy="371.9" r="1.45"/><circle cx="83.8" cy="371.9" r="1.45"/><circle cx="70.2" cy="377.4" r="1.45"/><circle cx="66.3" cy="380.7" r="1.45"/><circle cx="92.5" cy="376.4" r="1.45"/><circle cx="74.5" cy="384.3" r="1.45"/><circle cx="75.0" cy="387.6" r="1.45"/><circle cx="82.7" cy="388.7" r="1.45"/><circle cx="89.7" cy="386.3" r="1.45"/><circle cx="93.5" cy="389.7" r="1.45"/><circle cx="137.0" cy="254.8" r="1.45"/><circle cx="121.8" cy="260.1" r="1.45"/><circle cx="120.3" cy="261.5" r="1.45"/><circle cx="134.0" cy="261.5" r="1.45"/><circle cx="130.9" cy="263.9" r="1.45"/><circle cx="118.9" cy="264.9" r="1.45"/><circle cx="135.7" cy="265.9" r="1.45"/><circle cx="134.8" cy="267.3" r="1.45"/><circle cx="120.8" cy="267.3" r="1.45"/><circle cx="119.4" cy="268.3" r="1.45"/><circle cx="125.6" cy="268.1" r="1.45"/><circle cx="128.8" cy="269.2" r="1.45"/><circle cx="132.7" cy="268.3" r="1.45"/><circle cx="137.2" cy="271.6" r="1.45"/><circle cx="105.2" cy="272.6" r="1.45"/><circle cx="124.7" cy="273.1" r="1.45"/><circle cx="131.9" cy="273.6" r="1.45"/><circle cx="145.3" cy="273.6" r="1.45"/><circle cx="149.2" cy="271.6" r="1.45"/><circle cx="151.1" cy="271.6" r="1.45"/><circle cx="153.0" cy="269.2" r="1.45"/><circle cx="119.9" cy="274.8" r="1.45"/><circle cx="121.8" cy="275.2" r="1.45"/><circle cx="123.7" cy="275.2" r="1.45"/><circle cx="125.6" cy="276.0" r="1.45"/><circle cx="123.2" cy="276.9" r="1.45"/><circle cx="120.8" cy="277.9" r="1.45"/><circle cx="122.8" cy="277.9" r="1.45"/><circle cx="116.5" cy="276.9" r="1.45"/><circle cx="114.6" cy="278.4" r="1.45"/><circle cx="113.6" cy="279.3" r="1.45"/><circle cx="135.7" cy="276.0" r="1.45"/><circle cx="134.3" cy="277.1" r="1.45"/><circle cx="132.8" cy="278.4" r="1.45"/><circle cx="127.1" cy="278.8" r="1.45"/><circle cx="151.1" cy="275.8" r="1.45"/><circle cx="149.2" cy="277.9" r="1.45"/><circle cx="105.4" cy="278.8" r="1.45"/><circle cx="105.0" cy="280.8" r="1.45"/><circle cx="107.8" cy="281.7" r="1.45"/><circle cx="141.0" cy="281.2" r="1.45"/><circle cx="124.2" cy="282.2" r="1.45"/><circle cx="127.6" cy="282.7" r="1.45"/><circle cx="111.7" cy="282.2" r="1.45"/><circle cx="115.1" cy="283.2" r="1.45"/><circle cx="131.9" cy="282.2" r="1.45"/><circle cx="135.7" cy="281.7" r="1.45"/><circle cx="137.2" cy="283.2" r="1.45"/><circle cx="134.8" cy="283.7" r="1.45"/><circle cx="132.8" cy="284.6" r="1.45"/><circle cx="148.2" cy="281.7" r="1.45"/><circle cx="149.2" cy="284.6" r="1.45"/><circle cx="146.8" cy="284.6" r="1.45"/><circle cx="153.0" cy="281.7" r="1.45"/><circle cx="152.6" cy="283.7" r="1.45"/><circle cx="105.0" cy="283.7" r="1.45"/><circle cx="104.5" cy="286.5" r="1.45"/><circle cx="110.7" cy="286.0" r="1.45"/><circle cx="113.1" cy="286.0" r="1.45"/><circle cx="115.5" cy="287.0" r="1.45"/><circle cx="129.5" cy="286.0" r="1.45"/><circle cx="127.6" cy="287.5" r="1.45"/><circle cx="130.9" cy="288.0" r="1.45"/><circle cx="139.6" cy="286.5" r="1.45"/><circle cx="145.3" cy="287.5" r="1.45"/><circle cx="152.6" cy="287.0" r="1.45"/><circle cx="105.0" cy="288.8" r="1.45"/><circle cx="107.8" cy="289.3" r="1.45"/><circle cx="109.8" cy="287.9" r="1.45"/><circle cx="111.7" cy="288.8" r="1.45"/><circle cx="114.6" cy="288.4" r="1.45"/><circle cx="116.0" cy="289.3" r="1.45"/><circle cx="120.3" cy="289.8" r="1.45"/><circle cx="123.2" cy="288.4" r="1.45"/><circle cx="126.1" cy="289.8" r="1.45"/><circle cx="128.0" cy="288.8" r="1.45"/><circle cx="130.0" cy="287.9" r="1.45"/><circle cx="131.9" cy="289.3" r="1.45"/><circle cx="134.8" cy="288.4" r="1.45"/><circle cx="139.6" cy="289.3" r="1.45"/><circle cx="144.4" cy="288.8" r="1.45"/><circle cx="147.3" cy="289.8" r="1.45"/><circle cx="151.1" cy="289.3" r="1.45"/><circle cx="153.0" cy="290.8" r="1.45"/><circle cx="105.9" cy="291.7" r="1.45"/><circle cx="108.8" cy="292.7" r="1.45"/><circle cx="110.7" cy="293.6" r="1.45"/><circle cx="113.6" cy="293.2" r="1.45"/><circle cx="117.5" cy="292.2" r="1.45"/><circle cx="119.4" cy="294.1" r="1.45"/><circle cx="122.3" cy="292.7" r="1.45"/><circle cx="124.2" cy="294.6" r="1.45"/><circle cx="129.0" cy="293.6" r="1.45"/><circle cx="130.9" cy="292.2" r="1.45"/><circle cx="132.8" cy="294.1" r="1.45"/><circle cx="135.7" cy="292.7" r="1.45"/><circle cx="137.7" cy="291.7" r="1.45"/><circle cx="140.5" cy="293.6" r="1.45"/><circle cx="143.4" cy="294.1" r="1.45"/><circle cx="146.3" cy="292.7" r="1.45"/><circle cx="149.2" cy="293.6" r="1.45"/><circle cx="152.1" cy="294.6" r="1.45"/><circle cx="110.7" cy="294.6" r="1.45"/><circle cx="115.5" cy="295.6" r="1.45"/><circle cx="121.3" cy="295.6" r="1.45"/><circle cx="126.1" cy="294.6" r="1.45"/><circle cx="130.0" cy="295.6" r="1.45"/><circle cx="113.6" cy="297.5" r="1.45"/><circle cx="116.5" cy="297.5" r="1.45"/><circle cx="113.1" cy="299.9" r="1.45"/><circle cx="115.5" cy="299.4" r="1.45"/><circle cx="129.5" cy="296.5" r="1.45"/><circle cx="130.0" cy="300.2" r="1.45"/><circle cx="138.6" cy="297.5" r="1.45"/><circle cx="140.5" cy="297.0" r="1.45"/><circle cx="139.1" cy="299.4" r="1.45"/><circle cx="142.5" cy="298.0" r="1.45"/><circle cx="144.4" cy="299.4" r="1.45"/><circle cx="147.3" cy="297.5" r="1.45"/><circle cx="150.2" cy="296.5" r="1.45"/><circle cx="152.1" cy="298.5" r="1.45"/><circle cx="148.2" cy="300.4" r="1.45"/><circle cx="151.1" cy="300.9" r="1.45"/><circle cx="153.0" cy="299.9" r="1.45"/><circle cx="106.9" cy="302.3" r="1.45"/><circle cx="108.3" cy="303.8" r="1.45"/><circle cx="104.5" cy="304.7" r="1.45"/><circle cx="117.0" cy="302.3" r="1.45"/><circle cx="116.5" cy="304.2" r="1.45"/><circle cx="123.7" cy="304.7" r="1.45"/><circle cx="128.0" cy="302.8" r="1.45"/><circle cx="129.5" cy="304.2" r="1.45"/><circle cx="128.5" cy="306.2" r="1.45"/><circle cx="133.8" cy="302.3" r="1.45"/><circle cx="138.1" cy="305.2" r="1.45"/><circle cx="141.0" cy="307.1" r="1.45"/><circle cx="141.5" cy="302.8" r="1.45"/><circle cx="143.9" cy="303.3" r="1.45"/><circle cx="146.3" cy="305.2" r="1.45"/><circle cx="148.2" cy="306.2" r="1.45"/><circle cx="150.2" cy="302.3" r="1.45"/><circle cx="152.6" cy="304.2" r="1.45"/><circle cx="111.2" cy="306.6" r="1.45"/><circle cx="107.4" cy="308.6" r="1.45"/><circle cx="109.3" cy="310.5" r="1.45"/><circle cx="110.7" cy="311.4" r="1.45"/><circle cx="129.5" cy="308.1" r="1.45"/><circle cx="134.3" cy="310.2" r="1.45"/><circle cx="146.3" cy="308.6" r="1.45"/><circle cx="147.8" cy="307.6" r="1.45"/><circle cx="151.1" cy="308.1" r="1.45"/><circle cx="152.1" cy="310.5" r="1.45"/><circle cx="139.6" cy="312.4" r="1.45"/><circle cx="126.6" cy="314.3" r="1.45"/><circle cx="126.9" cy="316.7" r="1.45"/><circle cx="143.4" cy="313.4" r="1.45"/><circle cx="144.9" cy="313.8" r="1.45"/><circle cx="142.5" cy="315.8" r="1.45"/><circle cx="142.0" cy="317.7" r="1.45"/><circle cx="147.8" cy="315.8" r="1.45"/><circle cx="138.1" cy="317.7" r="1.45"/><circle cx="140.5" cy="319.1" r="1.45"/><circle cx="146.3" cy="318.6" r="1.45"/><circle cx="107.8" cy="321.1" r="1.45"/><circle cx="113.6" cy="324.4" r="1.45"/><circle cx="108.8" cy="327.9" r="1.45"/><circle cx="118.4" cy="329.8" r="1.45"/><circle cx="120.8" cy="329.1" r="1.45"/><circle cx="137.7" cy="330.1" r="1.45"/><circle cx="142.0" cy="327.9" r="1.45"/><circle cx="118.2" cy="335.4" r="1.45"/><circle cx="126.3" cy="337.8" r="1.45"/><circle cx="148.2" cy="338.8" r="1.45"/><circle cx="107.4" cy="343.1" r="1.45"/><circle cx="122.1" cy="344.5" r="1.45"/><circle cx="152.6" cy="344.5" r="1.45"/><circle cx="109.8" cy="351.0" r="1.45"/><circle cx="122.8" cy="353.2" r="1.45"/><circle cx="108.3" cy="358.7" r="1.45"/><circle cx="122.6" cy="358.7" r="1.45"/><circle cx="124.8" cy="387.6" r="1.45"/><circle cx="119.4" cy="389.9" r="1.45"/><circle cx="154.5" cy="269.2" r="1.45"/><circle cx="164.8" cy="265.9" r="1.45"/><circle cx="166.5" cy="270.4" r="1.45"/><circle cx="156.9" cy="275.8" r="1.45"/><circle cx="166.3" cy="275.8" r="1.45"/><circle cx="155.0" cy="277.9" r="1.45"/><circle cx="156.4" cy="279.3" r="1.45"/><circle cx="154.5" cy="281.7" r="1.45"/><circle cx="164.1" cy="282.2" r="1.45"/><circle cx="160.7" cy="284.6" r="1.45"/><circle cx="162.7" cy="286.0" r="1.45"/><circle cx="156.4" cy="286.0" r="1.45"/><circle cx="166.3" cy="287.0" r="1.45"/><circle cx="176.3" cy="284.1" r="1.45"/><circle cx="177.1" cy="286.3" r="1.45"/><circle cx="182.8" cy="285.8" r="1.45"/><circle cx="184.3" cy="286.7" r="1.45"/><circle cx="193.9" cy="280.0" r="1.45"/><circle cx="189.6" cy="284.1" r="1.45"/><circle cx="192.5" cy="283.2" r="1.45"/><circle cx="194.4" cy="282.7" r="1.45"/><circle cx="196.3" cy="284.1" r="1.45"/><circle cx="193.4" cy="286.0" r="1.45"/><circle cx="195.3" cy="286.5" r="1.45"/><circle cx="198.2" cy="286.0" r="1.45"/><circle cx="199.7" cy="286.5" r="1.45"/><circle cx="202.1" cy="283.2" r="1.45"/><circle cx="202.6" cy="285.6" r="1.45"/><circle cx="155.9" cy="293.2" r="1.45"/><circle cx="154.5" cy="294.6" r="1.45"/><circle cx="165.5" cy="291.7" r="1.45"/><circle cx="162.7" cy="295.6" r="1.45"/><circle cx="165.5" cy="297.0" r="1.45"/><circle cx="164.1" cy="298.0" r="1.45"/><circle cx="154.5" cy="299.9" r="1.45"/><circle cx="155.4" cy="303.3" r="1.45"/><circle cx="162.7" cy="301.3" r="1.45"/><circle cx="163.6" cy="302.8" r="1.45"/><circle cx="165.1" cy="302.3" r="1.45"/><circle cx="167.9" cy="301.2" r="1.45"/><circle cx="159.3" cy="304.7" r="1.45"/><circle cx="157.8" cy="305.7" r="1.45"/><circle cx="162.2" cy="307.6" r="1.45"/><circle cx="164.1" cy="306.6" r="1.45"/><circle cx="166.0" cy="305.7" r="1.45"/><circle cx="167.9" cy="305.7" r="1.45"/><circle cx="167.0" cy="309.0" r="1.45"/><circle cx="159.3" cy="311.0" r="1.45"/><circle cx="161.2" cy="311.4" r="1.45"/><circle cx="159.8" cy="312.9" r="1.45"/><circle cx="163.1" cy="312.9" r="1.45"/><circle cx="157.8" cy="316.2" r="1.45"/><circle cx="160.2" cy="317.2" r="1.45"/><circle cx="161.7" cy="314.8" r="1.45"/><circle cx="165.1" cy="316.7" r="1.45"/><circle cx="160.7" cy="321.3" r="1.45"/><circle cx="167.5" cy="321.1" r="1.45"/><circle cx="158.8" cy="324.4" r="1.45"/><circle cx="177.6" cy="288.8" r="1.45"/><circle cx="179.0" cy="289.8" r="1.45"/><circle cx="180.9" cy="288.8" r="1.45"/><circle cx="183.8" cy="287.9" r="1.45"/><circle cx="187.7" cy="289.3" r="1.45"/><circle cx="189.6" cy="287.9" r="1.45"/><circle cx="192.5" cy="289.3" r="1.45"/><circle cx="194.4" cy="287.9" r="1.45"/><circle cx="198.2" cy="288.8" r="1.45"/><circle cx="200.2" cy="287.4" r="1.45"/><circle cx="202.1" cy="288.8" r="1.45"/><circle cx="176.6" cy="291.7" r="1.45"/><circle cx="178.5" cy="291.2" r="1.45"/><circle cx="180.4" cy="292.2" r="1.45"/><circle cx="182.4" cy="290.8" r="1.45"/><circle cx="184.8" cy="291.7" r="1.45"/><circle cx="186.7" cy="290.8" r="1.45"/><circle cx="188.6" cy="292.2" r="1.45"/><circle cx="190.5" cy="291.2" r="1.45"/><circle cx="192.9" cy="292.7" r="1.45"/><circle cx="195.3" cy="291.7" r="1.45"/><circle cx="197.3" cy="290.8" r="1.45"/><circle cx="199.2" cy="292.2" r="1.45"/><circle cx="201.1" cy="291.2" r="1.45"/><circle cx="202.6" cy="292.7" r="1.45"/><circle cx="178.0" cy="293.6" r="1.45"/><circle cx="181.9" cy="294.1" r="1.45"/><circle cx="185.7" cy="293.6" r="1.45"/><circle cx="196.3" cy="294.1" r="1.45"/><circle cx="200.2" cy="294.1" r="1.45"/><circle cx="178.0" cy="295.6" r="1.45"/><circle cx="180.0" cy="296.5" r="1.45"/><circle cx="181.9" cy="295.6" r="1.45"/><circle cx="179.5" cy="298.5" r="1.45"/><circle cx="182.8" cy="297.5" r="1.45"/><circle cx="185.7" cy="297.0" r="1.45"/><circle cx="187.2" cy="296.1" r="1.45"/><circle cx="196.3" cy="295.6" r="1.45"/><circle cx="199.2" cy="297.5" r="1.45"/><circle cx="201.1" cy="296.5" r="1.45"/><circle cx="202.1" cy="298.5" r="1.45"/><circle cx="198.2" cy="299.4" r="1.45"/><circle cx="177.1" cy="299.9" r="1.45"/><circle cx="180.0" cy="302.8" r="1.45"/><circle cx="188.6" cy="303.3" r="1.45"/><circle cx="190.5" cy="303.3" r="1.45"/><circle cx="201.1" cy="302.3" r="1.45"/><circle cx="199.2" cy="300.4" r="1.45"/><circle cx="184.8" cy="305.7" r="1.45"/><circle cx="185.2" cy="307.6" r="1.45"/><circle cx="187.2" cy="309.0" r="1.45"/><circle cx="203.0" cy="305.7" r="1.45"/><circle cx="177.6" cy="314.3" r="1.45"/><circle cx="192.9" cy="316.7" r="1.45"/><circle cx="196.8" cy="315.6" r="1.45"/><circle cx="202.6" cy="313.4" r="1.45"/><circle cx="180.0" cy="324.0" r="1.45"/><circle cx="191.0" cy="326.9" r="1.45"/><circle cx="156.9" cy="334.4" r="1.45"/><circle cx="159.0" cy="333.3" r="1.45"/><circle cx="161.7" cy="334.6" r="1.45"/><circle cx="196.8" cy="332.3" r="1.45"/><circle cx="201.3" cy="334.6" r="1.45"/><circle cx="157.4" cy="343.3" r="1.45"/><circle cx="164.4" cy="342.4" r="1.45"/><circle cx="157.8" cy="354.1" r="1.45"/><circle cx="203.2" cy="352.2" r="1.45"/><circle cx="159.6" cy="373.3" r="1.45"/><circle cx="155.0" cy="377.4" r="1.45"/><circle cx="157.1" cy="377.4" r="1.45"/><circle cx="159.1" cy="377.4" r="1.45"/><circle cx="162.4" cy="380.9" r="1.45"/><circle cx="167.1" cy="385.4" r="1.45"/><circle cx="186.9" cy="391.8" r="1.45"/><circle cx="192.2" cy="386.4" r="1.45"/><circle cx="232.8" cy="271.5" r="1.45"/><circle cx="227.0" cy="279.0" r="1.45"/><circle cx="230.8" cy="279.0" r="1.45"/><circle cx="233.0" cy="280.0" r="1.45"/><circle cx="231.5" cy="282.0" r="1.45"/><circle cx="208.0" cy="282.5" r="1.45"/><circle cx="211.5" cy="282.5" r="1.45"/><circle cx="218.0" cy="283.5" r="1.45"/><circle cx="221.8" cy="282.5" r="1.45"/><circle cx="228.0" cy="283.5" r="1.45"/><circle cx="227.0" cy="285.0" r="1.45"/><circle cx="237.0" cy="284.5" r="1.45"/><circle cx="239.0" cy="286.0" r="1.45"/><circle cx="242.0" cy="285.5" r="1.45"/><circle cx="206.0" cy="285.5" r="1.45"/><circle cx="210.0" cy="287.0" r="1.45"/><circle cx="214.0" cy="285.0" r="1.45"/><circle cx="221.5" cy="286.0" r="1.45"/><circle cx="234.0" cy="285.5" r="1.45"/><circle cx="205.0" cy="288.0" r="1.45"/><circle cx="208.0" cy="289.0" r="1.45"/><circle cx="211.0" cy="287.5" r="1.45"/><circle cx="214.0" cy="288.5" r="1.45"/><circle cx="216.5" cy="287.0" r="1.45"/><circle cx="219.0" cy="289.5" r="1.45"/><circle cx="222.0" cy="288.0" r="1.45"/><circle cx="224.0" cy="289.5" r="1.45"/><circle cx="227.0" cy="288.0" r="1.45"/><circle cx="229.5" cy="289.5" r="1.45"/><circle cx="232.0" cy="287.5" r="1.45"/><circle cx="234.5" cy="289.0" r="1.45"/><circle cx="237.0" cy="288.0" r="1.45"/><circle cx="239.5" cy="289.5" r="1.45"/><circle cx="241.5" cy="288.0" r="1.45"/><circle cx="242.5" cy="290.0" r="1.45"/><circle cx="206.0" cy="290.5" r="1.45"/><circle cx="210.0" cy="290.5" r="1.45"/><circle cx="213.0" cy="290.5" r="1.45"/><circle cx="216.0" cy="290.5" r="1.45"/><circle cx="220.0" cy="291.0" r="1.45"/><circle cx="225.5" cy="291.0" r="1.45"/><circle cx="229.0" cy="291.0" r="1.45"/><circle cx="235.0" cy="291.0" r="1.45"/><circle cx="239.0" cy="291.0" r="1.45"/><circle cx="205.0" cy="293.0" r="1.45"/><circle cx="208.0" cy="293.5" r="1.45"/><circle cx="211.5" cy="294.0" r="1.45"/><circle cx="214.0" cy="293.0" r="1.45"/><circle cx="217.0" cy="294.5" r="1.45"/><circle cx="223.5" cy="293.0" r="1.45"/><circle cx="226.0" cy="294.0" r="1.45"/><circle cx="228.5" cy="293.5" r="1.45"/><circle cx="233.0" cy="293.0" r="1.45"/><circle cx="236.0" cy="294.5" r="1.45"/><circle cx="243.0" cy="293.0" r="1.45"/><circle cx="244.0" cy="294.5" r="1.45"/><circle cx="207.0" cy="295.5" r="1.45"/><circle cx="210.0" cy="296.0" r="1.45"/><circle cx="215.5" cy="295.0" r="1.45"/><circle cx="219.0" cy="296.0" r="1.45"/><circle cx="224.5" cy="295.5" r="1.45"/><circle cx="227.5" cy="296.0" r="1.45"/><circle cx="231.0" cy="295.5" r="1.45"/><circle cx="235.0" cy="295.5" r="1.45"/><circle cx="206.0" cy="298.0" r="1.45"/><circle cx="208.5" cy="297.5" r="1.45"/><circle cx="212.5" cy="297.0" r="1.45"/><circle cx="216.5" cy="297.5" r="1.45"/><circle cx="220.0" cy="297.0" r="1.45"/><circle cx="224.5" cy="297.5" r="1.45"/><circle cx="227.0" cy="298.0" r="1.45"/><circle cx="231.5" cy="297.8" r="1.45"/><circle cx="235.5" cy="299.0" r="1.45"/><circle cx="240.5" cy="298.0" r="1.45"/><circle cx="205.0" cy="301.0" r="1.45"/><circle cx="208.0" cy="300.0" r="1.45"/><circle cx="217.0" cy="301.0" r="1.45"/><circle cx="226.0" cy="301.5" r="1.45"/><circle cx="229.5" cy="301.0" r="1.45"/><circle cx="239.5" cy="300.5" r="1.45"/><circle cx="243.5" cy="301.0" r="1.45"/><circle cx="207.0" cy="303.5" r="1.45"/><circle cx="220.0" cy="304.0" r="1.45"/><circle cx="204.5" cy="306.0" r="1.45"/><circle cx="212.0" cy="306.5" r="1.45"/><circle cx="236.0" cy="305.5" r="1.45"/><circle cx="239.0" cy="303.5" r="1.45"/><circle cx="239.0" cy="306.5" r="1.45"/><circle cx="242.0" cy="306.0" r="1.45"/><circle cx="215.5" cy="309.0" r="1.45"/><circle cx="221.0" cy="308.5" r="1.45"/><circle cx="225.0" cy="310.0" r="1.45"/><circle cx="244.5" cy="309.0" r="1.45"/><circle cx="207.0" cy="311.2" r="1.45"/><circle cx="223.0" cy="312.0" r="1.45"/><circle cx="228.0" cy="312.5" r="1.45"/><circle cx="239.5" cy="311.2" r="1.45"/><circle cx="241.0" cy="310.0" r="1.45"/><circle cx="243.5" cy="312.5" r="1.45"/><circle cx="212.0" cy="314.5" r="1.45"/><circle cx="211.5" cy="315.0" r="1.45"/><circle cx="219.0" cy="314.5" r="1.45"/><circle cx="223.5" cy="315.5" r="1.45"/><circle cx="240.2" cy="315.8" r="1.45"/><circle cx="231.8" cy="321.2" r="1.45"/><circle cx="223.2" cy="336.8" r="1.45"/><circle cx="220.0" cy="341.0" r="1.45"/><circle cx="219.5" cy="344.6" r="1.45"/><circle cx="238.1" cy="342.3" r="1.45"/><circle cx="237.8" cy="353.2" r="1.45"/></g><line x1="54.5" y1="292.6" x2="255" y2="292.6" stroke="#5470a0" stroke-width="1.3" stroke-dasharray="3.2,2.63" stroke-dashoffset="1.53"/><line x1="54.5" y1="365.8" x2="255" y2="365.8" stroke="#5470a0" stroke-width="1.3" stroke-dasharray="3.2,2.63" stroke-dashoffset="1.53"/>
<rect x="0.5" y="0.5" width="519" height="437" fill="none" stroke="#000" stroke-width="1"/>
</svg></body></html>
